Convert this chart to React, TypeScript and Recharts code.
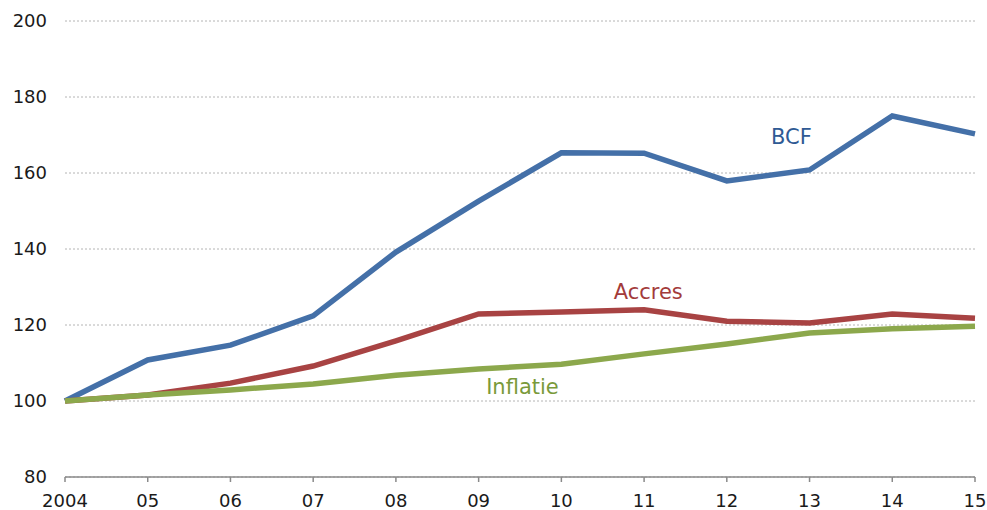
import React from 'react';
import { LineChart, Line, XAxis, YAxis, CartesianGrid, ReferenceDot } from 'recharts';

const years = ['2004', '05', '06', '07', '08', '09', '10', '11', '12', '13', '14', '15'];
const bcf = [100, 110.8, 114.7, 122.4, 139.2, 152.6, 165.3, 165.2, 157.9, 160.8, 175.0, 170.3];
const accres = [100, 101.6, 104.7, 109.2, 115.8, 122.9, 123.4, 124.0, 121.0, 120.5, 122.9, 121.8];
const inflatie = [100, 101.6, 102.9, 104.5, 106.8, 108.4, 109.7, 112.4, 115.0, 117.9, 119.0, 119.7];
const yTicks = [80, 100, 120, 140, 160, 180, 200];

const data = years.map((y, i) => ({ i, year: y, bcf: bcf[i], accres: accres[i], inflatie: inflatie[i] }));
const xTicks = years.map((_, i) => i);

const FONT = 'Verdana, "DejaVu Sans", sans-serif';

export default function App() {
  return (
    <div style={{ position: 'absolute', left: 0, top: 0 }}>
      <LineChart width={987} height={510} data={data} margin={{ top: 21, right: 12, left: 0, bottom: 0 }}>
        <CartesianGrid vertical={false} stroke="#b4b4b4" strokeDasharray="2 2" />
        <XAxis
          dataKey="i"
          type="number"
          domain={[0, 11]}
          ticks={xTicks}
          tickFormatter={(v: number) => years[v]}
          height={33}
          stroke="#8a8a8a"
          strokeWidth={1.5}
          tickSize={5}
          tickMargin={12}
          tick={{ fill: '#1a1a1a', fontSize: 18, fontFamily: FONT }}
          interval={0}
        />
        <YAxis
          domain={[80, 200]}
          ticks={yTicks}
          width={65}
          axisLine={false}
          tickLine={false}
          tickSize={0}
          tickMargin={18}
          tick={{ fill: '#1a1a1a', fontSize: 18, fontFamily: FONT }}
          interval={0}
        />
        <Line dataKey="bcf" stroke="#4470a8" strokeWidth={5.5} dot={false} isAnimationActive={false} />
        <Line dataKey="accres" stroke="#a84343" strokeWidth={5.5} dot={false} isAnimationActive={false} />
        <Line dataKey="inflatie" stroke="#8ca84c" strokeWidth={5.5} dot={false} isAnimationActive={false} />
        <ReferenceDot x={8.78} y={169.5} r={1} fill="none" stroke="none"
          label={{ value: 'BCF', position: 'center', fill: '#2f5a94', fontSize: 21, fontFamily: FONT }} />
        <ReferenceDot x={7.05} y={128.7} r={1} fill="none" stroke="none"
          label={{ value: 'Accres', position: 'center', fill: '#a33b3b', fontSize: 21, fontFamily: FONT }} />
        <ReferenceDot x={5.53} y={103.7} r={1} fill="none" stroke="none"
          label={{ value: 'Inflatie', position: 'center', fill: '#7a9a3a', fontSize: 21, fontFamily: FONT }} />
      </LineChart>
    </div>
  );
}
